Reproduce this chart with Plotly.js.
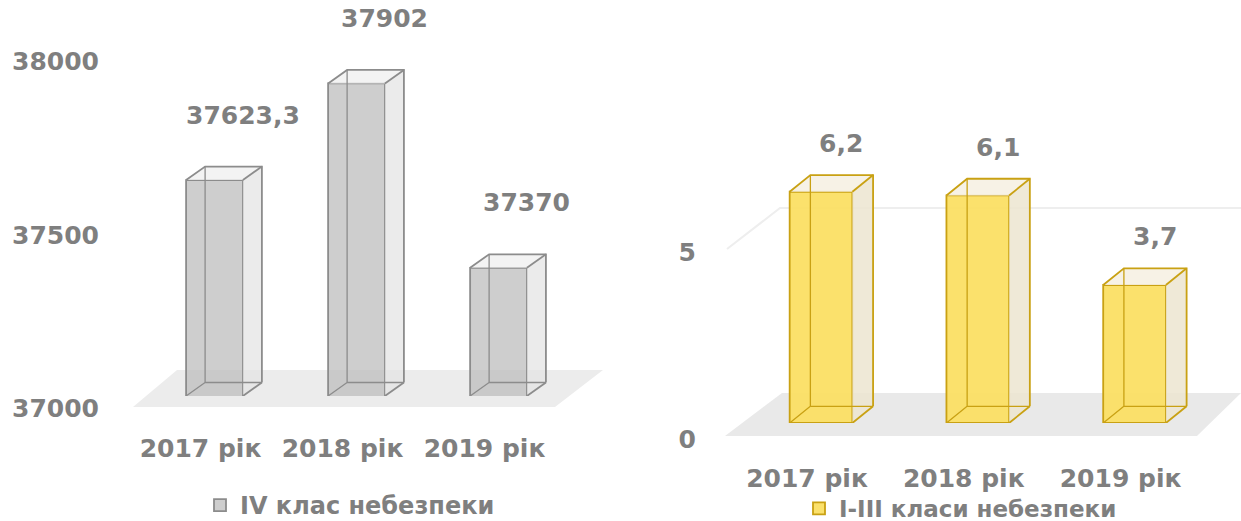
<!DOCTYPE html>
<html>
<head>
<meta charset="utf-8">
<script src="https://cdn.plot.ly/plotly-3.0.1.min.js"></script>
<style>html,body{margin:0;padding:0;background:#fff;}#chart{width:1241px;height:521px;}</style>
</head>
<body>
<div id="chart"></div>
<script>
// ---- data ----
const categories = ['2017 рік', '2018 рік', '2019 рік'];
const classIV = [37623.3, 37902, 37370];
const classI_III = [6.2, 6.1, 3.7];
const classIVLabels = ['37623,3', '37902', '37370'];
const classI_IIILabels = ['6,2', '6,1', '3,7'];
const ticksLeft = [37000, 37500, 38000];
const ticksRight = [0, 5];
const seriesNames = ['IV клас небезпеки', 'I-III класи небезпеки'];

// ---- helpers ----
const W = 1241, H = 521;
const px = x => x / W;
const py = y => 1 - y / H;
const FONT = 'DejaVu Sans, Arial, sans-serif';
const GREY = '#7f7f7f';

function boxTraces(xa, ya, vals, base, w, dx, dy, st) {
  const idx = vals.map((_, i) => i);
  const side = {x: [], y: []}, top = {x: [], y: []}, hidden = {x: [], y: []}, edges = {x: [], y: []};
  idx.forEach(i => {
    const v = vals[i], l = i - w / 2, r = i + w / 2;
    side.x.push(r, r + dx, r + dx, r, r, null);
    side.y.push(base, base + dy, v + dy, v, base, null);
    top.x.push(l, l + dx, r + dx, r, l, null);
    top.y.push(v, v + dy, v + dy, v, v, null);
    hidden.x.push(l, l + dx, l + dx, null, l + dx, r + dx, null);
    hidden.y.push(base, base + dy, v + dy, null, base + dy, base + dy, null);
    edges.x.push(l, l + dx, r + dx, r + dx, null, r, r + dx, null, r, r + dx, null);
    edges.y.push(v, v + dy, v + dy, base + dy, null, v, v + dy, null, base, base + dy, null);
  });
  const common = {xaxis: xa, yaxis: ya, type: 'scatter', mode: 'lines', hoverinfo: 'skip', showlegend: false, cliponaxis: false};
  return [
    Object.assign({}, common, side, {fill: 'toself', fillcolor: st.side, line: {width: 0, color: 'rgba(0,0,0,0)'}}),
    Object.assign({}, common, top, {fill: 'toself', fillcolor: st.top, line: {width: 0, color: 'rgba(0,0,0,0)'}}),
    Object.assign({}, common, hidden, {line: {width: 1.3, color: st.edge}}),
    Object.assign({}, common, edges, {line: {width: 1.8, color: st.edge}})
  ];
}

// geometry (axis scale)
const leftScale = 0.3465;   // px per unit
const rightScale = 37.3;
const leftRange = [37000, 37000 + 366 / leftScale];
const rightRange = [0, 323 / rightScale];
const dxL = 19 / 142, dyL = 13.5 / leftScale;
const dxR = 20.7 / 156.75, dyR = 16.7 / rightScale;
const barW = 0.4;

const styleL = {front: 'rgba(190,190,190,0.75)', side: 'rgba(228,228,228,0.75)', top: 'rgba(240,240,240,0.8)', edge: '#8c8c8c'};
const styleR = {front: 'rgba(251,222,95,0.92)', side: 'rgba(236,229,208,0.85)', top: 'rgba(246,241,227,0.9)', edge: '#c9a113'};

const idxs = categories.map((_, i) => i);

const traces = [
  {type: 'bar', x: idxs, y: classIV, width: barW, xaxis: 'x', yaxis: 'y', name: seriesNames[0],
   marker: {color: styleL.front, line: {color: styleL.edge, width: 1.8}}, hoverinfo: 'skip', legend: 'legend'},
  ...boxTraces('x', 'y', classIV, leftRange[0], barW, dxL, dyL, styleL),
  {type: 'bar', x: idxs, y: classI_III, width: barW, xaxis: 'x2', yaxis: 'y2', name: seriesNames[1],
   marker: {color: styleR.front, line: {color: styleR.edge, width: 1.8}}, hoverinfo: 'skip', legend: 'legend2'},
  ...boxTraces('x2', 'y2', classI_III, rightRange[0], barW, dxR, dyR, styleR)
];

const annotations = [];
classIV.forEach((v, i) => annotations.push({xref: 'x', yref: 'y', x: i, y: v, text: classIVLabels[i], showarrow: false,
  xshift: 28, yshift: 65, font: {family: FONT, size: 25, color: GREY, weight: 'bold'}}));
classI_III.forEach((v, i) => annotations.push({xref: 'x2', yref: 'y2', x: i, y: v, text: classI_IIILabels[i], showarrow: false,
  xshift: 20, yshift: 48, font: {family: FONT, size: 25, color: GREY, weight: 'bold'}}));

const shapes = [
  // floors
  {type: 'path', xref: 'paper', yref: 'paper', layer: 'below', line: {width: 0}, fillcolor: '#ececec',
   path: `M${px(133)},${py(407)} L${px(177)},${py(370)} L${px(603)},${py(370)} L${px(555)},${py(407)} Z`},
  {type: 'path', xref: 'paper', yref: 'paper', layer: 'below', line: {width: 0}, fillcolor: '#e9e9e9',
   path: `M${px(725)},${py(436)} L${px(782)},${py(393)} L${px(1241)},${py(393)} L${px(1197)},${py(436)} Z`},
  // right back grid line (value 5)
  {type: 'path', xref: 'paper', yref: 'paper', layer: 'below', line: {width: 2, color: '#eeeeee'},
   path: `M${px(727)},${py(249)} L${px(780)},${py(208)} L${px(1241)},${py(208)}`}
];

const tickFont = {family: FONT, size: 25, color: GREY, weight: 'bold'};
const axBase = {showgrid: false, zeroline: false, showline: false, ticks: '', fixedrange: true};

const layout = {
  width: W, height: H,
  margin: {l: 0, r: 0, t: 0, b: 0, autoexpand: false},
  paper_bgcolor: '#ffffff', plot_bgcolor: 'rgba(0,0,0,0)',
  barmode: 'overlay',
  xaxis: Object.assign({}, axBase, {domain: [px(130), px(610)], range: [-0.595, 2.785], anchor: 'y',
    tickvals: idxs, ticktext: categories, tickfont: tickFont, ticklabelshift: -14, ticklabelstandoff: 35}),
  yaxis: Object.assign({}, axBase, {domain: [py(396), py(30)], range: leftRange, anchor: 'x',
    tickvals: ticksLeft, tickformat: 'd', tickfont: tickFont, ticklabelshift: 12, ticklabelstandoff: 30}),
  xaxis2: Object.assign({}, axBase, {domain: [px(700), 1], range: [-0.772, 2.679], anchor: 'y2',
    tickvals: idxs, ticktext: categories, tickfont: tickFont, ticklabelshift: -14, ticklabelstandoff: 38}),
  yaxis2: Object.assign({}, axBase, {domain: [py(423), py(100)], range: rightRange, anchor: 'x2',
    tickvals: ticksRight, tickformat: 'd', tickfont: tickFont, ticklabelshift: 16, ticklabelstandoff: 3}),
  showlegend: true,
  legend: {x: px(200), y: py(483), xanchor: 'left', yanchor: 'top', bgcolor: 'rgba(0,0,0,0)',
    font: {family: FONT, size: 24, color: GREY, weight: 'bold'}, itemclick: false},
  legend2: {x: px(799), y: py(487), xanchor: 'left', yanchor: 'top', bgcolor: 'rgba(0,0,0,0)',
    font: {family: FONT, size: 23, color: GREY, weight: 'bold'}, itemclick: false},
  annotations: annotations,
  shapes: shapes
};

Plotly.newPlot('chart', traces, layout, {staticPlot: true, displayModeBar: false});
</script>
</body>
</html>
